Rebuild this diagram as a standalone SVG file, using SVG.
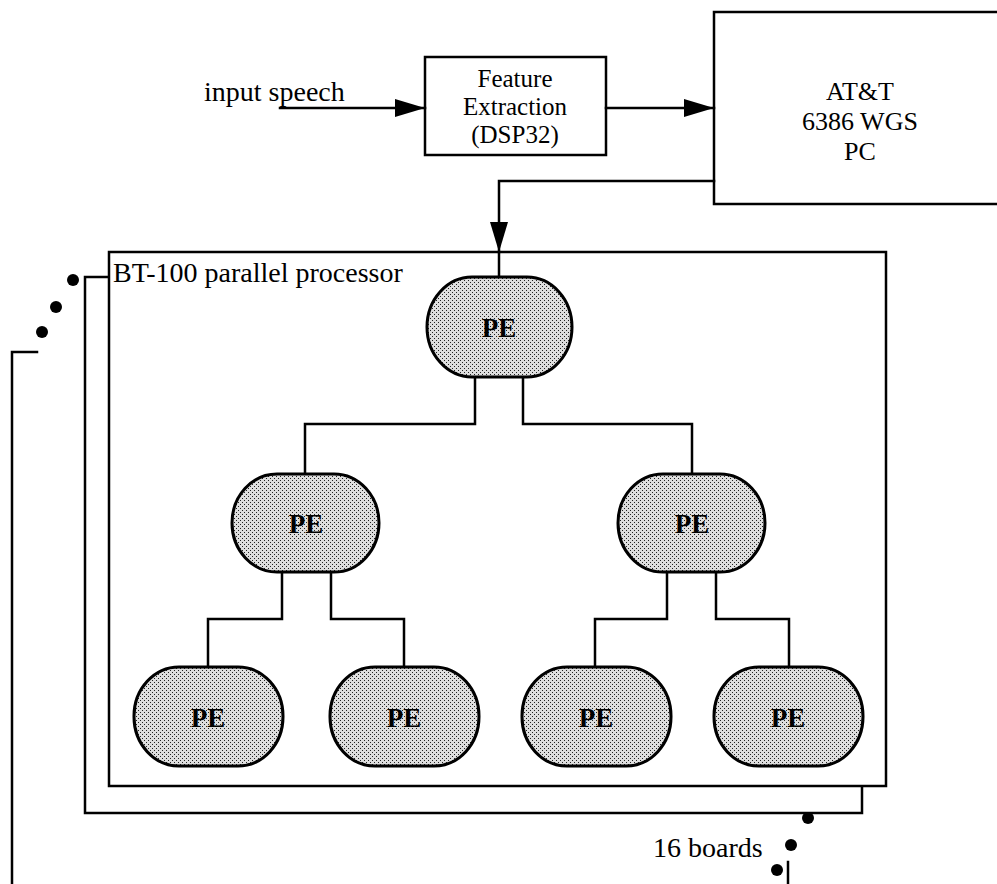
<svg xmlns="http://www.w3.org/2000/svg" width="997" height="884" viewBox="0 0 997 884">
<style>
.ln{fill:none;stroke:#000;stroke-width:2.5;stroke-linejoin:miter;stroke-linecap:square}
.box{fill:#fff;stroke:#000;stroke-width:2.5}
.pe{fill:url(#stip);stroke:#000;stroke-width:3}
.t{font-family:"Liberation Serif","Times New Roman",serif;font-size:28px;fill:#000}
.s{font-family:"Liberation Serif","Times New Roman",serif;font-size:25px;fill:#000;text-anchor:middle}
.pt{font-family:"Liberation Serif","Times New Roman",serif;font-size:27px;font-weight:bold;fill:#000;text-anchor:middle}
.dot{fill:#000}
</style>
<defs>
<pattern id="stip" width="4" height="4" patternUnits="userSpaceOnUse">
<rect width="4" height="4" fill="#dedede"/>
<rect x="0" y="0" width="1" height="1" fill="#222"/>
<rect x="2" y="2" width="1" height="1" fill="#222"/>
</pattern>
<marker id="ah" markerWidth="30" markerHeight="18" refX="30" refY="9" orient="auto" markerUnits="userSpaceOnUse">
<path d="M0,0 L30,9 L0,18 Z" fill="#000"/>
</marker>
</defs>
<rect width="997" height="884" fill="#fff"/>

<g id="stack">
<path class="ln" d="M12,884 V352 H37"/>
<path class="ln" d="M788,884 V862"/>
<path class="ln" d="M109,277 H85 V813 H862 V786"/>
<circle class="dot" cx="73" cy="280" r="6"/>
<circle class="dot" cx="56" cy="307" r="6"/>
<circle class="dot" cx="42" cy="332" r="6"/>
<circle class="dot" cx="808" cy="818" r="6"/>
<circle class="dot" cx="791" cy="845" r="6"/>
<circle class="dot" cx="777" cy="870" r="6"/>
<text class="t" x="653" y="857">16 boards</text>
</g>

<g id="bt100">
<rect class="box" x="109" y="252" width="777" height="534"/>
<text class="t" x="113" y="282">BT-100 parallel processor</text>
</g>

<g id="input">
<text class="t" x="204" y="101">input speech</text>
</g>

<g id="feature">
<rect class="box" x="425" y="57" width="181" height="98"/>
<text class="s" x="515" y="87">Feature</text>
<text class="s" x="515" y="115">Extraction</text>
<text class="s" x="515" y="143">(DSP32)</text>
</g>

<g id="pc">
<rect class="box" x="714" y="12" width="300" height="192"/>
<text class="s" style="font-size:26px" x="860" y="100">AT&amp;T</text>
<text class="s" style="font-size:26px" x="860" y="130">6386 WGS</text>
<text class="s" style="font-size:26px" x="860" y="160">PC</text>
</g>

<g id="connectors">
<path class="ln" d="M280,108 H425" marker-end="url(#ah)"/>
<path class="ln" d="M606,108 H714" marker-end="url(#ah)"/>
<path class="ln" d="M714,181 H499 V252" marker-end="url(#ah)"/>
<path class="ln" d="M499,252 V277"/>
<path class="ln" d="M475,377 V424 H305 V474"/>
<path class="ln" d="M523,377 V424 H692 V474"/>
<path class="ln" d="M282,572 V619 H208 V667"/>
<path class="ln" d="M331,572 V619 H404 V667"/>
<path class="ln" d="M667,572 V619 H595 V667"/>
<path class="ln" d="M716,572 V619 H789 V667"/>
</g>

<g id="pe1">
<rect class="pe" x="427" y="277" width="145" height="100" rx="45" ry="50"/>
<text class="pt" x="499" y="337">PE</text>
</g>
<g id="pe2">
<rect class="pe" x="232" y="474" width="147" height="98" rx="45" ry="49"/>
<text class="pt" x="306" y="533">PE</text>
</g>
<g id="pe3">
<rect class="pe" x="618" y="474" width="147" height="98" rx="45" ry="49"/>
<text class="pt" x="692" y="533">PE</text>
</g>
<g id="pe4">
<rect class="pe" x="134" y="667" width="149" height="99" rx="45" ry="49"/>
<text class="pt" x="208" y="727">PE</text>
</g>
<g id="pe5">
<rect class="pe" x="330" y="667" width="149" height="99" rx="45" ry="49"/>
<text class="pt" x="404" y="727">PE</text>
</g>
<g id="pe6">
<rect class="pe" x="522" y="667" width="149" height="99" rx="45" ry="49"/>
<text class="pt" x="596" y="727">PE</text>
</g>
<g id="pe7">
<rect class="pe" x="714" y="667" width="149" height="99" rx="45" ry="49"/>
<text class="pt" x="788" y="727">PE</text>
</g>
</svg>
